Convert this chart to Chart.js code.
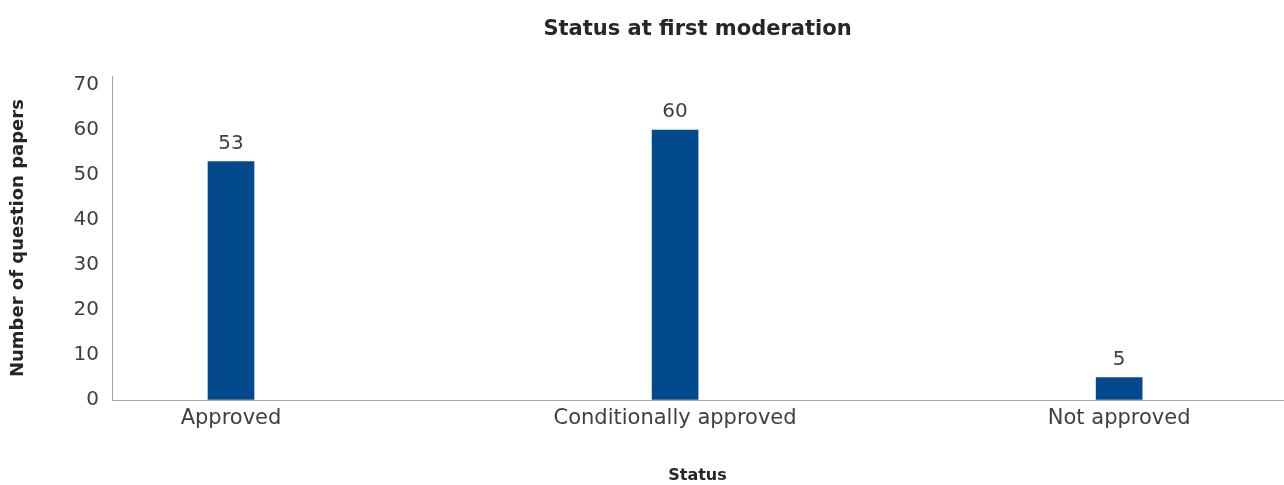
<!DOCTYPE html>
<html><head><meta charset="utf-8">
<script src="https://cdn.jsdelivr.net/npm/chart.js@4"></script>
<style>html,body{margin:0;padding:0;background:#fff}#wrap{width:1284px;height:485px}</style>
</head><body><div id="wrap"><canvas id="c" width="1284" height="485"></canvas></div>
<script>
const categories = ["Approved", "Conditionally approved", "Not approved"];
const values = [53, 60, 5];
const yTicks = [0, 10, 20, 30, 40, 50, 60, 70];
const chartTitle = "Status at first moderation";
const xTitle = "Status";
const yTitle = "Number of question papers";

const FONT = "'DejaVu Sans', sans-serif";
const TEXT = '#404040';
const AXIS = '#a6a6a6';

const labelPlugin = {
  id: 'valueLabels',
  afterDatasetsDraw(chart) {
    const ctx = chart.ctx;
    const meta = chart.getDatasetMeta(0);
    ctx.save();
    ctx.font = "20px " + FONT;
    ctx.fillStyle = TEXT;
    ctx.textAlign = 'center';
    ctx.textBaseline = 'middle';
    meta.data.forEach((bar, i) => {
      ctx.fillText(String(values[i]), bar.x, bar.y - 18);
    });
    ctx.restore();
  }
};

new Chart(document.getElementById('c'), {
  type: 'bar',
  data: {
    datasets: [{
      data: values.map((v, i) => ({x: i, y: v})),
      backgroundColor: '#034a8c',
      barThickness: 46
    }]
  },
  options: {
    responsive: false,
    animation: false,
    layout: {padding: {left: 0, right: 1, top: 0, bottom: 0}},
    plugins: {
      legend: {display: false},
      tooltip: {enabled: false},
      title: {
        display: true, text: chartTitle, color: '#262626', fullSize: false,
        font: {family: FONT, size: 21, weight: 'bold'},
        padding: {top: 17, bottom: 34}
      }
    },
    scales: {
      x: {
        type: 'linear', min: -0.268, max: 2.369, offset: false,
        afterBuildTicks(s) { s.ticks = categories.map((c, i) => ({value: i})); },
        afterFit(s) { s.height = 85; },
        grid: {color: 'transparent', drawTicks: false, offset: false},
        border: {color: AXIS, width: 1},
        ticks: {
          color: TEXT, font: {family: FONT, size: 21}, padding: 6,
          maxRotation: 0, autoSkip: false,
          callback: (v) => categories[v]
        },
        title: {display: true, text: xTitle, color: '#262626',
          font: {family: FONT, size: 16, weight: 'bold'}, padding: {top: 0, bottom: 0}}
      },
      y: {
        min: 0, max: 72,
        afterBuildTicks(s) { s.ticks = yTicks.map(v => ({value: v})); },
        afterFit(s) { s.width = 112; },
        grid: {color: 'transparent', drawTicks: false},
        border: {color: AXIS, width: 1},
        ticks: {color: TEXT, font: {family: FONT, size: 20}, padding: 13},
        title: {display: true, text: yTitle, color: '#262626',
          font: {family: FONT, size: 18, weight: 'bold'}, padding: {top: 8, bottom: 0}}
      }
    }
  },
  plugins: [labelPlugin]
});
</script></body></html>
